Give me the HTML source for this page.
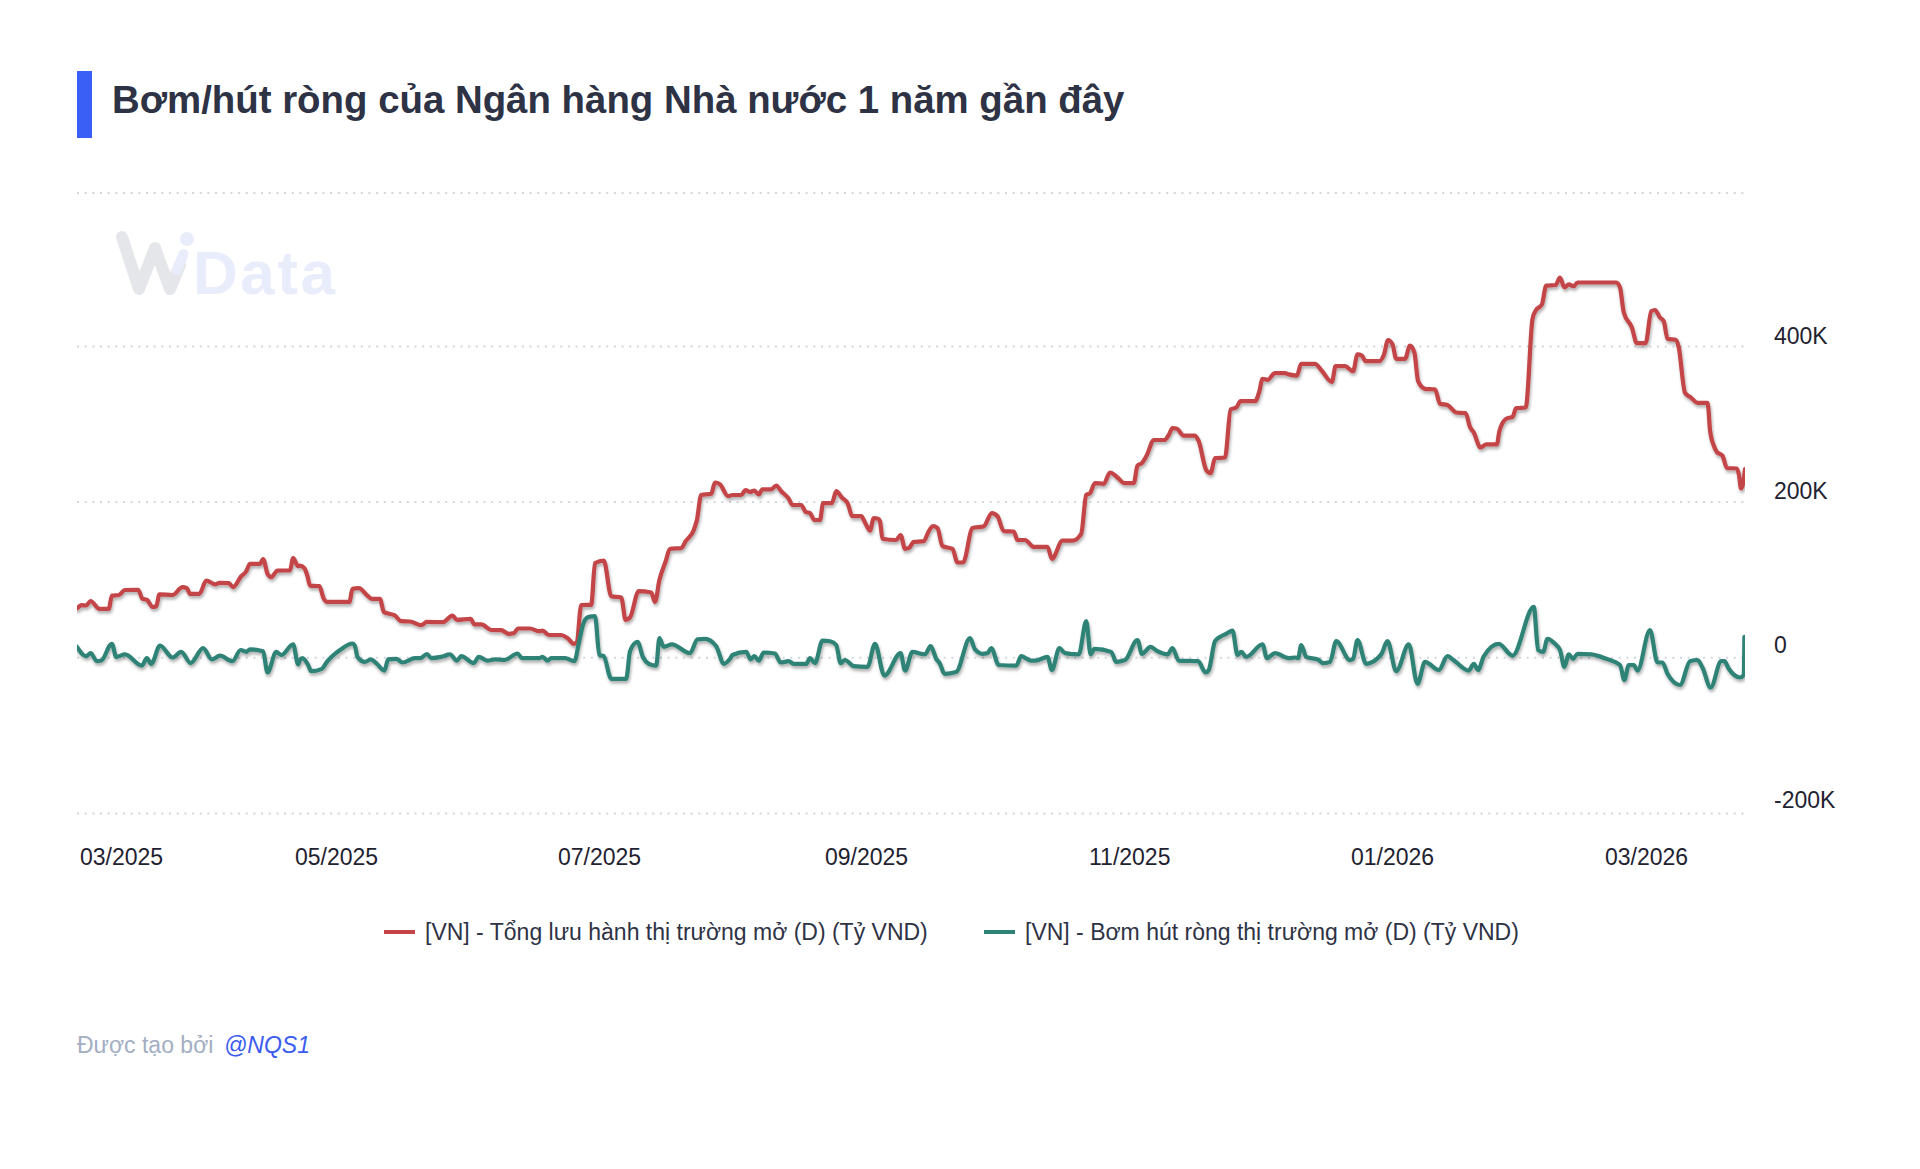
<!DOCTYPE html>
<html><head><meta charset="utf-8">
<style>
html,body{margin:0;padding:0;background:#fff;width:1920px;height:1169px;overflow:hidden;font-family:"Liberation Sans",sans-serif;}
.bar{position:absolute;left:77px;top:71px;width:15px;height:67px;background:#3a5ff6;}
.title{position:absolute;left:112px;top:77px;font-size:38.4px;font-weight:bold;color:#2e3245;white-space:nowrap;line-height:46px;}
.yl{position:absolute;left:1774px;font-size:23px;color:#1f2230;white-space:nowrap;line-height:26px;}
.xl{position:absolute;top:843.5px;font-size:23px;color:#1f2230;white-space:nowrap;line-height:26px;}
.lg{position:absolute;top:919px;font-size:23px;color:#2e3245;white-space:nowrap;line-height:26px;}
.ft{position:absolute;top:1032px;font-size:23px;white-space:nowrap;line-height:26px;}
svg{position:absolute;left:0;top:0;}
</style></head><body>
<div class="bar"></div>
<div class="title">Bơm/hút ròng của Ngân hàng Nhà nước 1 năm gần đây</div>
<svg width="1920" height="1169" viewBox="0 0 1920 1169">
<defs>
<filter id="sh" x="-5%" y="-20%" width="110%" height="140%"><feDropShadow dx="1" dy="2.5" stdDeviation="1.6" flood-color="#000" flood-opacity="0.32"/></filter>
<clipPath id="cp"><rect x="77" y="150" width="1668" height="700"/></clipPath>
</defs>
<g opacity="1">
<path d="M122 237 L139 289 L155 248 L170 289 L180 265" fill="none" stroke="#e4e6ea" stroke-width="12" stroke-linecap="round" stroke-linejoin="round"/>
<circle cx="187" cy="239" r="7" fill="#e8ecfb"/>
<path d="M183.5 254 L177 270" fill="none" stroke="#e8ecfb" stroke-width="10" stroke-linecap="round"/>
<text x="193" y="294" font-family="Liberation Sans" font-weight="bold" font-size="62" letter-spacing="2.5" fill="#e8ecfb">Data</text>
</g>
<g stroke="#d2d6de" stroke-width="2" stroke-dasharray="2 5.67">
<line x1="77" y1="193" x2="1745" y2="193"/>
<line x1="77" y1="346.5" x2="1745" y2="346.5"/>
<line x1="77" y1="502" x2="1745" y2="502"/>
<line x1="77" y1="657.8" x2="1745" y2="657.8"/>
<line x1="77" y1="813.4" x2="1745" y2="813.4"/>
</g>
<g clip-path="url(#cp)" fill="none" stroke-width="4.2" stroke-linejoin="round" stroke-linecap="round">
<path filter="url(#sh)" stroke="#c44447" d="M76.9 608.5 C78.5 606.9 80.2 605.2 81.9 605.2 C83.3 605.2 84.8 605.5 86.2 605.5 C87.7 605.5 89.2 601.0 90.6 601.0 C93.5 601.0 96.5 608.8 99.4 608.8 C102.5 608.8 105.6 608.8 108.8 608.8 C109.8 608.8 110.8 595.8 111.9 595.6 C114.2 595.2 116.5 595.4 118.8 595.0 C120.8 594.6 122.9 590.1 125.0 590.0 C129.4 589.8 133.8 589.8 138.1 589.8 C139.6 589.8 141.0 598.1 142.5 598.8 C144.0 599.4 145.4 599.1 146.9 599.8 C148.8 600.6 150.6 606.9 152.5 606.9 C153.8 606.9 155.0 606.7 156.2 606.2 C157.3 605.9 158.3 594.4 159.4 594.4 C163.8 594.4 168.1 595.0 172.5 595.0 C175.8 595.0 179.2 587.2 182.5 587.2 C184.0 587.2 185.4 587.5 186.9 588.1 C187.9 588.5 189.0 593.8 190.0 593.8 C193.1 593.8 196.2 593.8 199.4 593.8 C201.7 593.8 204.0 580.6 206.2 580.6 C209.4 580.6 212.5 584.4 215.6 584.4 C216.9 584.4 218.1 582.8 219.4 582.8 C222.5 582.8 225.6 582.9 228.8 583.1 C230.2 583.2 231.7 587.2 233.1 587.2 C235.8 587.2 238.5 579.3 241.2 576.2 C242.9 574.4 244.6 573.9 246.2 571.2 C247.5 569.3 248.8 563.8 250.0 563.8 C253.3 563.8 256.7 563.8 260.0 563.8 C261.0 563.8 262.1 559.0 263.1 559.0 C264.6 559.0 266.0 571.0 267.5 573.8 C268.8 576.1 270.0 577.2 271.2 577.2 C273.3 577.2 275.4 570.7 277.5 570.6 C281.7 570.5 285.8 570.5 290.0 570.4 C291.0 570.3 292.1 558.1 293.1 558.1 C294.8 558.1 296.5 566.2 298.1 566.2 C298.8 566.2 299.4 565.6 300.0 565.6 C301.5 565.6 302.9 566.5 304.4 568.1 C305.4 569.3 306.5 572.9 307.5 576.2 C308.3 578.9 309.2 585.5 310.0 585.6 C313.1 586.0 316.2 585.8 319.4 586.2 C320.8 586.4 322.3 596.2 323.8 598.8 C324.8 600.6 325.8 601.9 326.9 601.9 C334.4 601.9 341.9 601.9 349.4 601.9 C350.4 601.9 351.5 589.0 352.5 588.8 C354.6 588.3 356.7 588.1 358.8 588.1 C361.9 588.1 365.0 594.0 368.1 596.2 C369.4 597.2 370.6 598.8 371.9 598.8 C374.6 598.8 377.3 598.8 380.0 598.8 C381.2 598.8 382.5 611.0 383.8 611.9 C387.5 614.4 391.2 613.1 395.0 615.6 C397.1 617.0 399.2 621.1 401.2 621.2 C404.2 621.4 407.1 621.3 410.0 621.5 C413.8 621.7 417.5 625.2 421.2 625.2 C423.1 625.2 425.0 621.9 426.9 621.9 C432.1 621.9 437.3 622.2 442.5 622.2 C445.8 622.2 449.2 615.6 452.5 615.6 C454.0 615.6 455.4 619.8 456.9 619.8 C461.5 619.8 466.0 618.8 470.6 618.8 C471.9 618.8 473.1 624.4 474.4 624.4 C476.7 624.4 479.0 624.4 481.2 624.4 C484.6 624.4 487.9 629.8 491.2 630.0 C494.6 630.2 497.9 630.1 501.2 630.2 C503.8 630.4 506.2 633.8 508.8 633.8 C510.4 633.8 512.1 633.5 513.8 633.1 C515.2 632.8 516.7 628.5 518.1 628.5 C522.1 628.5 526.0 628.5 530.0 628.5 C533.1 628.5 536.2 631.2 539.4 631.2 C540.4 631.2 541.5 630.6 542.5 630.6 C544.6 630.6 546.7 635.0 548.8 635.0 C552.9 635.0 557.1 635.0 561.2 635.0 C563.3 635.0 565.4 636.7 567.5 638.1 C569.6 639.6 571.7 643.8 573.8 643.8 C574.8 643.8 575.8 643.1 576.9 641.9 C578.3 640.1 579.8 605.1 581.2 605.0 C584.6 604.8 587.9 604.9 591.2 604.8 C592.5 604.7 593.8 563.8 595.0 563.1 C597.9 561.5 600.8 560.6 603.8 560.6 C606.2 560.6 608.8 595.6 611.2 596.2 C614.6 597.1 617.9 596.7 621.2 597.5 C622.7 597.9 624.2 620.0 625.6 620.0 C627.1 620.0 628.5 619.2 630.0 617.5 C632.9 614.2 635.8 591.2 638.8 591.2 C642.9 591.2 647.1 591.7 651.2 592.5 C652.5 592.8 653.8 601.9 655.0 601.9 C656.5 601.9 657.9 586.1 659.4 580.0 C661.5 571.3 663.5 567.6 665.6 561.5 C667.1 557.2 668.5 548.9 670.0 548.8 C673.8 548.3 677.5 548.5 681.2 548.1 C682.7 548.0 684.2 543.4 685.6 541.2 C688.3 537.2 691.0 537.3 693.8 530.0 C694.8 527.2 695.8 524.4 696.9 520.0 C698.3 513.8 699.8 495.4 701.2 495.0 C704.6 494.2 707.9 494.6 711.2 493.8 C712.5 493.4 713.8 482.5 715.0 482.5 C716.7 482.5 718.3 483.1 720.0 484.4 C722.7 486.4 725.4 496.2 728.1 496.2 C729.6 496.2 731.0 495.0 732.5 495.0 C735.4 495.0 738.3 495.0 741.2 495.0 C742.7 495.0 744.2 490.0 745.6 490.0 C747.1 490.0 748.5 491.9 750.0 491.9 C751.5 491.9 752.9 490.6 754.4 490.6 C755.8 490.6 757.3 494.4 758.8 494.4 C760.0 494.4 761.2 489.4 762.5 489.4 C765.4 489.4 768.3 489.4 771.2 489.4 C772.9 489.4 774.6 485.6 776.2 485.6 C777.9 485.6 779.6 489.5 781.2 491.2 C783.8 493.9 786.2 495.1 788.8 498.8 C790.0 500.6 791.2 505.0 792.5 505.0 C795.4 505.0 798.3 505.0 801.2 505.0 C802.7 505.0 804.2 511.0 805.6 511.9 C807.1 512.7 808.5 512.3 810.0 513.1 C811.5 514.0 812.9 520.0 814.4 520.0 C816.2 520.0 818.1 520.0 820.0 520.0 C821.0 520.0 822.1 503.1 823.1 503.1 C826.0 503.1 829.0 503.1 831.9 503.1 C833.3 503.1 834.8 491.2 836.2 491.2 C838.1 491.2 840.0 495.5 841.9 497.5 C843.8 499.5 845.6 499.6 847.5 503.1 C849.2 506.2 850.8 516.2 852.5 516.2 C855.4 516.2 858.3 516.2 861.2 516.2 C862.5 516.2 863.8 520.4 865.0 522.5 C866.7 525.2 868.3 530.6 870.0 530.6 C871.2 530.6 872.5 518.1 873.8 518.1 C875.2 518.1 876.7 518.3 878.1 518.8 C878.8 518.9 879.4 519.6 880.0 521.2 C880.8 523.5 881.7 538.6 882.5 538.8 C887.1 539.6 891.7 540.0 896.2 540.0 C897.7 540.0 899.2 535.0 900.6 535.0 C902.1 535.0 903.5 548.8 905.0 548.8 C906.2 548.8 907.5 548.5 908.8 548.1 C910.4 547.6 912.1 542.1 913.8 541.9 C917.1 541.5 920.4 541.7 923.8 541.2 C925.4 541.0 927.1 533.8 928.8 531.2 C930.2 529.0 931.7 526.2 933.1 526.2 C934.6 526.2 936.0 526.9 937.5 528.1 C939.2 529.6 940.8 545.4 942.5 546.2 C945.8 547.9 949.2 547.1 952.5 548.8 C954.2 549.6 955.8 562.5 957.5 562.5 C959.4 562.5 961.2 562.5 963.1 562.5 C966.2 562.5 969.4 529.2 972.5 528.1 C976.2 526.9 980.0 527.5 983.8 526.2 C986.5 525.3 989.2 513.1 991.9 513.1 C993.8 513.1 995.6 514.2 997.5 516.2 C999.6 518.6 1001.7 531.1 1003.8 531.2 C1007.1 531.4 1010.4 531.3 1013.8 531.5 C1015.0 531.6 1016.2 540.0 1017.5 540.0 C1020.0 540.0 1022.5 540.0 1025.0 540.0 C1027.9 540.0 1030.8 546.9 1033.8 546.9 C1038.3 546.9 1042.9 546.9 1047.5 546.9 C1049.0 546.9 1050.4 558.8 1051.9 558.8 C1055.4 558.8 1059.0 540.6 1062.5 540.6 C1065.8 540.6 1069.2 540.6 1072.5 540.6 C1075.4 540.6 1078.3 538.3 1081.2 533.8 C1082.9 531.1 1084.6 496.7 1086.2 495.0 C1087.5 493.8 1088.8 494.4 1090.0 493.1 C1091.7 491.5 1093.3 483.1 1095.0 483.1 C1097.9 483.1 1100.8 483.8 1103.8 483.8 C1105.8 483.8 1107.9 472.5 1110.0 472.5 C1110.6 472.5 1111.2 472.8 1111.9 473.1 C1113.8 474.0 1115.6 476.0 1117.5 477.5 C1119.8 479.3 1122.1 483.1 1124.4 483.1 C1127.5 483.1 1130.6 483.1 1133.8 483.1 C1135.0 483.1 1136.2 467.1 1137.5 465.6 C1139.0 464.0 1140.4 464.7 1141.9 463.1 C1143.5 461.4 1145.2 458.1 1146.9 455.0 C1149.2 450.7 1151.5 440.0 1153.8 440.0 C1157.3 440.0 1160.8 440.0 1164.4 440.0 C1165.8 440.0 1167.3 437.2 1168.8 435.0 C1170.0 433.1 1171.2 428.1 1172.5 428.1 C1174.0 428.1 1175.4 428.3 1176.9 428.8 C1179.2 429.4 1181.5 435.6 1183.8 435.6 C1187.5 435.6 1191.2 435.6 1195.0 435.6 C1196.2 435.6 1197.5 438.4 1198.8 441.2 C1201.2 446.9 1203.8 466.4 1206.2 470.0 C1207.7 472.1 1209.2 473.1 1210.6 473.1 C1212.1 473.1 1213.5 458.3 1215.0 458.1 C1218.3 457.7 1221.7 457.9 1225.0 457.5 C1226.9 457.3 1228.8 410.6 1230.6 409.4 C1232.5 408.1 1234.4 408.8 1236.2 407.5 C1237.7 406.5 1239.2 401.2 1240.6 401.2 C1245.4 401.2 1250.2 401.2 1255.0 401.2 C1256.5 401.2 1257.9 396.0 1259.4 391.2 C1260.4 387.8 1261.5 378.8 1262.5 378.8 C1264.2 378.8 1265.8 379.8 1267.5 379.8 C1270.0 379.8 1272.5 373.1 1275.0 373.1 C1278.3 373.1 1281.7 373.1 1285.0 373.1 C1286.2 373.1 1287.5 374.0 1288.8 374.4 C1291.5 375.1 1294.2 375.6 1296.9 375.6 C1298.3 375.6 1299.8 363.8 1301.2 363.8 C1305.8 363.8 1310.4 363.8 1315.0 363.8 C1317.1 363.8 1319.2 367.8 1321.2 370.0 C1324.8 373.7 1328.3 381.9 1331.9 381.9 C1333.1 381.9 1334.4 366.2 1335.6 366.2 C1338.8 366.2 1341.9 366.2 1345.0 366.2 C1347.7 366.2 1350.4 371.2 1353.1 371.2 C1354.6 371.2 1356.0 354.4 1357.5 354.4 C1359.0 354.4 1360.4 354.8 1361.9 355.6 C1363.1 356.3 1364.4 361.2 1365.6 361.2 C1370.2 361.2 1374.8 361.2 1379.4 361.2 C1380.8 361.2 1382.3 358.5 1383.8 355.0 C1385.2 351.5 1386.7 340.0 1388.1 340.0 C1389.6 340.0 1391.0 341.5 1392.5 344.4 C1393.8 346.9 1395.0 358.8 1396.2 358.8 C1399.2 358.8 1402.1 358.8 1405.0 358.8 C1406.7 358.8 1408.3 345.6 1410.0 345.6 C1411.5 345.6 1412.9 347.9 1414.4 352.5 C1415.6 356.4 1416.9 378.5 1418.1 381.2 C1420.4 386.2 1422.7 388.5 1425.0 388.8 C1428.3 389.2 1431.7 389.0 1435.0 389.4 C1436.7 389.6 1438.3 403.2 1440.0 403.8 C1442.5 404.6 1445.0 404.2 1447.5 405.0 C1450.4 406.0 1453.3 412.1 1456.2 412.5 C1459.4 412.9 1462.5 412.7 1465.6 413.1 C1467.1 413.3 1468.5 423.6 1470.0 426.9 C1471.2 429.7 1472.5 430.3 1473.8 432.5 C1476.0 436.5 1478.3 447.5 1480.6 447.5 C1482.5 447.5 1484.4 444.4 1486.2 444.4 C1489.8 444.4 1493.3 444.4 1496.9 444.4 C1497.7 444.4 1498.5 434.3 1499.4 431.2 C1501.7 422.9 1504.0 420.1 1506.2 418.8 C1508.3 417.5 1510.4 418.1 1512.5 416.9 C1513.8 416.1 1515.0 408.3 1516.2 408.1 C1519.4 407.7 1522.5 407.9 1525.6 407.5 C1525.8 407.5 1526.0 406.7 1526.2 406.0 C1528.3 398.8 1530.4 329.6 1532.5 318.8 C1533.5 313.3 1534.6 312.7 1535.6 310.6 C1537.7 306.5 1539.8 308.5 1541.9 304.4 C1543.3 301.5 1544.8 285.8 1546.2 285.6 C1549.4 285.2 1552.5 285.4 1555.6 285.0 C1557.1 284.8 1558.5 277.5 1560.0 277.5 C1561.5 277.5 1562.9 287.5 1564.4 287.5 C1565.8 287.5 1567.3 284.4 1568.8 284.4 C1570.4 284.4 1572.1 286.2 1573.8 286.2 C1575.0 286.2 1576.2 282.5 1577.5 282.5 C1590.4 282.5 1603.3 282.5 1616.2 282.5 C1617.5 282.5 1618.8 284.2 1620.0 287.5 C1621.2 290.8 1622.5 307.9 1623.8 312.5 C1626.5 322.5 1629.2 320.4 1631.9 327.5 C1633.5 331.9 1635.2 343.1 1636.9 343.1 C1639.8 343.1 1642.7 343.1 1645.6 343.1 C1647.5 343.1 1649.4 312.5 1651.2 311.2 C1652.5 310.4 1653.8 310.0 1655.0 310.0 C1656.7 310.0 1658.3 315.5 1660.0 317.5 C1661.2 319.0 1662.5 318.8 1663.8 321.2 C1665.0 323.8 1666.2 338.4 1667.5 338.8 C1670.4 339.6 1673.3 339.2 1676.2 340.0 C1677.1 340.2 1677.9 344.0 1678.8 347.5 C1680.8 356.3 1682.9 389.4 1685.0 392.8 C1687.1 396.1 1689.2 396.1 1691.2 397.8 C1693.3 399.4 1695.4 402.8 1697.5 402.8 C1700.8 402.8 1704.2 402.8 1707.5 402.8 C1707.8 402.8 1708.0 405.3 1708.3 407.5 C1708.9 412.2 1709.4 425.5 1710.0 430.0 C1711.4 441.1 1712.8 442.9 1714.2 446.7 C1715.0 449.0 1715.9 450.5 1716.7 451.7 C1718.6 454.4 1720.6 453.1 1722.5 455.8 C1724.0 457.9 1725.5 467.8 1727.0 468.0 C1730.2 468.3 1733.5 468.2 1736.7 468.5 C1737.5 468.6 1738.2 471.2 1739.0 475.0 C1739.7 478.3 1740.3 488.5 1741.0 488.5 C1741.7 488.5 1742.3 487.0 1743.0 484.0 C1743.7 481.0 1744.3 475.0 1745.0 469.0"/>
<path filter="url(#sh)" stroke="#2d8376" d="M76.9 646.8 C80.0 651.5 83.1 656.2 86.2 656.2 C87.7 656.2 89.2 653.1 90.6 653.1 C92.7 653.1 94.8 661.2 96.9 661.2 C98.3 661.2 99.8 661.0 101.2 660.6 C104.8 659.6 108.3 643.8 111.9 643.8 C113.3 643.8 114.8 656.9 116.2 656.9 C119.2 656.9 122.1 654.4 125.0 654.4 C130.6 654.4 136.2 665.6 141.9 665.6 C143.5 665.6 145.2 658.1 146.9 658.1 C148.3 658.1 149.8 663.8 151.2 663.8 C154.2 663.8 157.1 645.6 160.0 645.6 C164.2 645.6 168.3 657.5 172.5 657.5 C175.4 657.5 178.3 651.9 181.2 651.9 C184.4 651.9 187.5 663.1 190.6 663.1 C194.8 663.1 199.0 648.1 203.1 648.1 C206.0 648.1 209.0 659.4 211.9 659.4 C214.6 659.4 217.3 655.6 220.0 655.6 C224.2 655.6 228.3 661.2 232.5 661.2 C235.2 661.2 237.9 650.0 240.6 650.0 C242.5 650.0 244.4 651.9 246.2 651.9 C247.5 651.9 248.8 649.4 250.0 649.4 C254.4 649.4 258.8 650.0 263.1 651.2 C264.6 651.7 266.0 672.5 267.5 672.5 C270.4 672.5 273.3 651.9 276.2 651.9 C277.9 651.9 279.6 655.0 281.2 655.0 C285.2 655.0 289.2 644.4 293.1 644.4 C294.8 644.4 296.5 664.4 298.1 664.4 C298.8 664.4 299.4 660.9 300.0 660.0 C300.8 658.8 301.7 658.1 302.5 658.1 C304.4 658.1 306.2 661.8 308.1 665.0 C309.2 666.8 310.2 671.2 311.2 671.2 C314.8 671.2 318.3 670.4 321.9 668.8 C323.5 668.0 325.2 664.0 326.9 661.9 C331.2 656.4 335.6 653.1 340.0 650.0 C344.2 647.1 348.3 643.5 352.5 643.5 C353.3 643.5 354.2 644.4 355.0 646.2 C355.8 648.1 356.7 655.8 357.5 656.9 C360.0 660.2 362.5 661.9 365.0 661.9 C366.9 661.9 368.8 659.4 370.6 659.4 C372.5 659.4 374.4 661.7 376.2 663.1 C379.0 665.2 381.7 670.6 384.4 670.6 C385.6 670.6 386.9 659.6 388.1 659.4 C390.8 659.0 393.5 658.8 396.2 658.8 C398.3 658.8 400.4 662.5 402.5 662.5 C406.7 662.5 410.8 658.1 415.0 658.1 C416.9 658.1 418.8 658.1 420.6 658.1 C422.7 658.1 424.8 654.0 426.9 654.0 C428.3 654.0 429.8 658.1 431.2 658.1 C434.6 658.1 437.9 657.6 441.2 656.9 C444.2 656.3 447.1 654.4 450.0 654.4 C452.3 654.4 454.6 660.6 456.9 660.6 C458.3 660.6 459.8 656.2 461.2 656.2 C465.4 656.2 469.6 663.1 473.8 663.1 C475.4 663.1 477.1 656.9 478.8 656.9 C481.7 656.9 484.6 660.6 487.5 660.6 C490.0 660.6 492.5 659.4 495.0 659.4 C498.3 659.4 501.7 659.8 505.0 659.8 C509.2 659.8 513.3 653.5 517.5 653.5 C519.0 653.5 520.4 658.1 521.9 658.1 C527.7 658.1 533.5 658.1 539.4 658.1 C540.4 658.1 541.5 656.9 542.5 656.9 C544.2 656.9 545.8 660.6 547.5 660.6 C548.8 660.6 550.0 658.1 551.2 658.1 C555.8 658.1 560.4 658.1 565.0 658.1 C568.1 658.1 571.2 661.2 574.4 661.2 C576.0 661.2 577.7 646.9 579.4 640.0 C580.8 634.0 582.3 625.8 583.8 622.5 C585.4 618.8 587.1 617.2 588.8 616.9 C590.8 616.5 592.9 616.2 595.0 616.2 C596.5 616.2 597.9 654.2 599.4 655.0 C600.8 655.8 602.3 655.4 603.8 656.2 C606.2 657.7 608.8 678.8 611.2 678.8 C616.2 678.8 621.2 678.8 626.2 678.8 C627.5 678.8 628.8 654.4 630.0 651.2 C632.5 645.0 635.0 641.9 637.5 641.9 C639.4 641.9 641.2 653.9 643.1 657.5 C645.0 661.1 646.9 662.8 648.8 663.8 C651.2 665.0 653.8 665.6 656.2 665.6 C657.3 665.6 658.3 638.1 659.4 638.1 C660.8 638.1 662.3 646.9 663.8 646.9 C666.5 646.9 669.2 644.4 671.9 644.4 C677.9 644.4 684.0 653.1 690.0 653.1 C692.5 653.1 695.0 639.8 697.5 639.4 C700.0 639.0 702.5 638.8 705.0 638.8 C708.8 638.8 712.5 641.2 716.2 646.2 C718.8 649.6 721.2 663.8 723.8 663.8 C725.8 663.8 727.9 661.5 730.0 658.8 C730.8 657.7 731.7 655.4 732.5 655.0 C737.1 652.9 741.7 651.9 746.2 651.9 C747.7 651.9 749.2 659.4 750.6 659.4 C751.9 659.4 753.1 656.2 754.4 656.2 C755.8 656.2 757.3 660.6 758.8 660.6 C760.4 660.6 762.1 652.5 763.8 652.5 C767.5 652.5 771.2 652.8 775.0 653.5 C776.9 653.8 778.8 662.5 780.6 662.5 C783.3 662.5 786.0 661.2 788.8 661.2 C790.4 661.2 792.1 663.8 793.8 663.8 C797.9 663.8 802.1 663.8 806.2 663.8 C807.5 663.8 808.8 658.1 810.0 658.1 C811.7 658.1 813.3 663.1 815.0 663.1 C817.5 663.1 820.0 640.6 822.5 640.6 C825.0 640.6 827.5 640.8 830.0 641.2 C832.1 641.6 834.2 642.5 836.2 645.0 C837.7 646.8 839.2 663.1 840.6 663.1 C842.1 663.1 843.5 660.0 845.0 660.0 C847.9 660.0 850.8 666.0 853.8 666.2 C858.3 666.7 862.9 666.9 867.5 666.9 C870.0 666.9 872.5 643.8 875.0 643.8 C878.1 643.8 881.2 675.6 884.4 675.6 C889.8 675.6 895.2 653.1 900.6 653.1 C902.1 653.1 903.5 670.6 905.0 670.6 C907.5 670.6 910.0 651.9 912.5 651.9 C916.7 651.9 920.8 654.4 925.0 654.4 C926.9 654.4 928.8 646.2 930.6 646.2 C932.5 646.2 934.4 655.6 936.2 658.8 C937.5 660.9 938.8 661.5 940.0 663.8 C941.5 666.3 942.9 673.8 944.4 673.8 C948.3 673.8 952.3 673.1 956.2 671.9 C960.8 670.4 965.4 638.1 970.0 638.1 C971.7 638.1 973.3 647.4 975.0 649.4 C977.5 652.3 980.0 653.8 982.5 653.8 C984.2 653.8 985.8 653.5 987.5 653.1 C988.8 652.8 990.0 648.1 991.2 648.1 C993.8 648.1 996.2 664.8 998.8 665.0 C1004.6 665.4 1010.4 665.6 1016.2 665.6 C1017.9 665.6 1019.6 656.2 1021.2 656.2 C1024.6 656.2 1027.9 660.6 1031.2 660.6 C1032.7 660.6 1034.2 660.6 1035.6 660.6 C1039.6 660.6 1043.5 656.9 1047.5 656.9 C1049.0 656.9 1050.4 670.0 1051.9 670.0 C1054.4 670.0 1056.9 648.1 1059.4 648.1 C1061.2 648.1 1063.1 652.8 1065.0 653.1 C1069.6 654.0 1074.2 654.4 1078.8 654.4 C1081.2 654.4 1083.8 621.2 1086.2 621.2 C1087.7 621.2 1089.2 654.4 1090.6 654.4 C1091.9 654.4 1093.1 648.8 1094.4 648.8 C1100.0 648.8 1105.6 649.8 1111.2 651.9 C1112.9 652.5 1114.6 661.9 1116.2 661.9 C1119.2 661.9 1122.1 661.2 1125.0 660.0 C1129.2 658.2 1133.3 640.0 1137.5 640.0 C1139.0 640.0 1140.4 653.8 1141.9 653.8 C1144.8 653.8 1147.7 646.9 1150.6 646.9 C1152.9 646.9 1155.2 650.1 1157.5 651.2 C1160.8 652.9 1164.2 654.4 1167.5 654.4 C1169.2 654.4 1170.8 648.1 1172.5 648.1 C1174.6 648.1 1176.7 660.5 1178.8 660.6 C1185.2 661.0 1191.7 660.8 1198.1 661.2 C1200.6 661.4 1203.1 672.5 1205.6 672.5 C1206.7 672.5 1207.7 671.7 1208.8 670.0 C1210.8 666.7 1212.9 644.6 1215.0 641.2 C1217.1 637.9 1219.2 637.6 1221.2 636.2 C1222.9 635.2 1224.6 634.6 1226.2 633.8 C1228.3 632.7 1230.4 630.6 1232.5 630.6 C1234.2 630.6 1235.8 655.0 1237.5 655.0 C1238.8 655.0 1240.0 651.9 1241.2 651.9 C1242.9 651.9 1244.6 656.9 1246.2 656.9 C1251.7 656.9 1257.1 644.4 1262.5 644.4 C1264.0 644.4 1265.4 658.1 1266.9 658.1 C1269.6 658.1 1272.3 653.1 1275.0 653.1 C1279.6 653.1 1284.2 658.1 1288.8 658.1 C1290.8 658.1 1292.9 657.5 1295.0 657.5 C1296.0 657.5 1297.1 658.1 1298.1 658.1 C1299.2 658.1 1300.2 645.0 1301.2 645.0 C1302.9 645.0 1304.6 656.0 1306.2 656.9 C1310.4 659.0 1314.6 657.9 1318.8 660.0 C1320.0 660.6 1321.2 663.1 1322.5 663.1 C1325.0 663.1 1327.5 662.7 1330.0 661.9 C1332.1 661.2 1334.2 641.2 1336.2 641.2 C1340.8 641.2 1345.4 660.0 1350.0 660.0 C1351.0 660.0 1352.1 659.6 1353.1 658.8 C1354.6 657.6 1356.0 640.0 1357.5 640.0 C1360.4 640.0 1363.3 663.8 1366.2 663.8 C1371.2 663.8 1376.2 660.6 1381.2 654.4 C1383.3 651.8 1385.4 641.2 1387.5 641.2 C1390.4 641.2 1393.3 671.2 1396.2 671.2 C1400.4 671.2 1404.6 644.4 1408.8 644.4 C1411.7 644.4 1414.6 683.8 1417.5 683.8 C1420.0 683.8 1422.5 661.9 1425.0 661.9 C1429.6 661.9 1434.2 670.0 1438.8 670.0 C1441.7 670.0 1444.6 656.2 1447.5 656.2 C1449.2 656.2 1450.8 658.2 1452.5 659.4 C1453.3 660.0 1454.2 660.6 1455.0 661.2 C1459.6 664.6 1464.2 670.6 1468.8 670.6 C1470.4 670.6 1472.1 663.8 1473.8 663.8 C1475.2 663.8 1476.7 670.0 1478.1 670.0 C1480.0 670.0 1481.9 659.4 1483.8 656.2 C1488.8 647.9 1493.8 643.8 1498.8 643.8 C1503.3 643.8 1507.9 655.6 1512.5 655.6 C1519.6 655.6 1526.7 606.9 1533.8 606.9 C1535.2 606.9 1536.7 648.9 1538.1 650.0 C1539.8 651.2 1541.5 651.9 1543.1 651.9 C1544.6 651.9 1546.0 638.8 1547.5 638.8 C1550.0 638.8 1552.5 641.2 1555.0 643.8 C1556.7 645.4 1558.3 645.8 1560.0 650.0 C1561.5 653.6 1562.9 666.9 1564.4 666.9 C1565.8 666.9 1567.3 654.4 1568.8 654.4 C1570.2 654.4 1571.7 658.8 1573.1 658.8 C1574.6 658.8 1576.0 653.8 1577.5 653.8 C1582.1 653.8 1586.7 654.0 1591.2 654.4 C1596.2 654.8 1601.2 656.9 1606.2 658.8 C1610.8 660.5 1615.4 660.8 1620.0 665.0 C1621.5 666.3 1622.9 680.0 1624.4 680.0 C1625.8 680.0 1627.3 665.0 1628.8 665.0 C1630.4 665.0 1632.1 665.0 1633.8 665.0 C1635.0 665.0 1636.2 670.6 1637.5 670.6 C1641.7 670.6 1645.8 630.0 1650.0 630.0 C1652.5 630.0 1655.0 662.5 1657.5 662.5 C1659.2 662.5 1660.8 662.5 1662.5 662.5 C1664.2 662.5 1665.8 670.8 1667.5 673.8 C1671.7 681.2 1675.8 685.0 1680.0 685.0 C1683.3 685.0 1686.7 662.4 1690.0 661.2 C1692.5 660.4 1695.0 660.0 1697.5 660.0 C1699.2 660.0 1700.8 664.4 1702.5 667.5 C1705.2 672.6 1707.9 687.5 1710.6 687.5 C1714.2 687.5 1717.7 661.2 1721.2 661.2 C1722.3 661.2 1723.3 661.2 1724.4 661.2 C1725.8 661.2 1727.3 666.6 1728.8 668.8 C1732.5 674.2 1736.2 677.5 1740.0 677.5 C1741.2 677.5 1742.5 676.7 1743.8 675.0 C1744.0 674.7 1744.2 655.8 1744.4 636.9"/>
</g>
</svg>
<div class="yl" style="top:323px">400K</div>
<div class="yl" style="top:478px">200K</div>
<div class="yl" style="top:632px">0</div>
<div class="yl" style="top:787px">-200K</div>
<div class="xl" style="left:80px">03/2025</div>
<div class="xl" style="left:295px">05/2025</div>
<div class="xl" style="left:558px">07/2025</div>
<div class="xl" style="left:825px">09/2025</div>
<div class="xl" style="left:1089px">11/2025</div>
<div class="xl" style="left:1351px">01/2026</div>
<div class="xl" style="left:1605px">03/2026</div>
<div style="position:absolute;left:384px;top:929.5px;width:30.5px;height:4px;background:#c44447"></div>
<div class="lg" style="left:425px">[VN] - Tổng lưu hành thị trường mở (D) (Tỷ VND)</div>
<div style="position:absolute;left:984px;top:929.5px;width:30.5px;height:4px;background:#2d8376"></div>
<div class="lg" style="left:1025px">[VN] - Bơm hút ròng thị trường mở (D) (Tỷ VND)</div>
<div class="ft" style="left:77px;color:#a3aec2">Được tạo bởi</div>
<div class="ft" style="left:224px;color:#3b5bf0;font-style:italic">@NQS1</div>
</body></html>
